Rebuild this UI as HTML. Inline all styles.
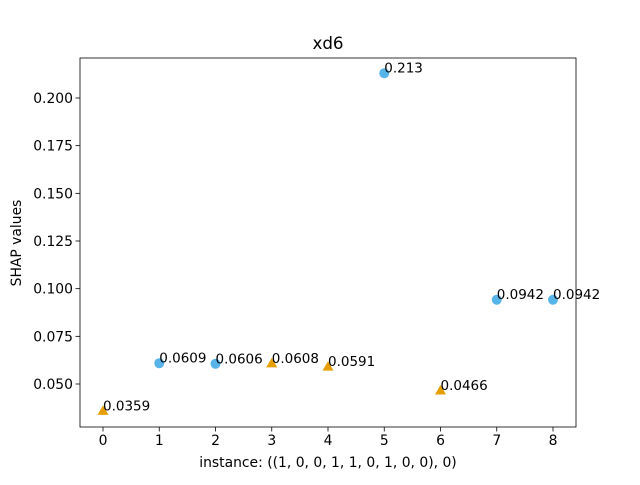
<!DOCTYPE html>
<html><head><meta charset="utf-8"><style>
body{margin:0;background:#fff}
svg text{font-family:"DejaVu Sans","Liberation Sans",sans-serif;fill:#000}
</style></head><body>
<svg id="chart" width="640" height="480" viewBox="0 0 640 480">
<rect x="0" y="0" width="640" height="480" fill="#fff"/>
<g id="marks"></g>
<rect x="80" y="58" width="496" height="369" fill="none" stroke="#000" stroke-width="0.8"/>
<g id="xticks"></g><g id="yticks"></g>
<text x="328" y="49" font-size="16.7" text-anchor="middle">xd6</text>
<text x="328" y="467" font-size="13.9" text-anchor="middle">instance: ((1, 0, 0, 1, 1, 0, 1, 0, 0), 0)</text>
<text transform="translate(21,243) rotate(-90)" font-size="13.9" text-anchor="middle">SHAP values</text>
</svg>
<script>
const instances=[0,1,2,3,4,5,6,7,8];
const values=[0.0359,0.0609,0.0606,0.0608,0.0591,0.213,0.0466,0.0942,0.0942];
const labels=["0.0359","0.0609","0.0606","0.0608","0.0591","0.213","0.0466","0.0942","0.0942"];
const positive=[false,true,true,false,false,true,false,true,true];
const xTicks=[0,1,2,3,4,5,6,7,8];
const yTicks=[0.050,0.075,0.100,0.125,0.150,0.175,0.200];
const yTickLabels=["0.050","0.075","0.100","0.125","0.150","0.175","0.200"];
const NS="http://www.w3.org/2000/svg";
const xs=v=>103+v*56.25;
const ys=v=>384-(v-0.05)*1906.67;
function mk(t,a,p){const e=document.createElementNS(NS,t);for(const k in a)e.setAttribute(k,a[k]);p.appendChild(e);return e;}
const xt=document.getElementById('xticks'),yt=document.getElementById('yticks'),m=document.getElementById('marks');
xTicks.forEach(t=>{const x=xs(t);
const l=mk('line',{x1:x,x2:x,y1:427,y2:431.5,stroke:'#000','stroke-width':0.8},xt);


const tx=mk('text',{x:x,y:445,'font-size':13.9,'text-anchor':'middle'},xt);tx.textContent=t;

});
yTicks.forEach((t,i)=>{const y=ys(t);
const l=mk('line',{x1:75.5,x2:80,y1:y,y2:y,stroke:'#000','stroke-width':0.8},yt);


const tx=mk('text',{x:73,y:y+5,'font-size':13.9,'text-anchor':'end'},yt);tx.textContent=yTickLabels[i];

});
instances.forEach((c,i)=>{const x=xs(c),y=ys(values[i]);let e;
if(positive[i]){e=mk('circle',{cx:x,cy:y,r:5,fill:'#56B4E9'},m);}
else{e=mk('polygon',{points:`${x},${y-5.5} ${x-5.5},${y+4} ${x+5.5},${y+4}`,fill:'#E69F00'},m);}


const tx=mk('text',{x:x,y:y-0.5,'font-size':13.5},m);tx.textContent=labels[i];

});
</script>
</body></html>
